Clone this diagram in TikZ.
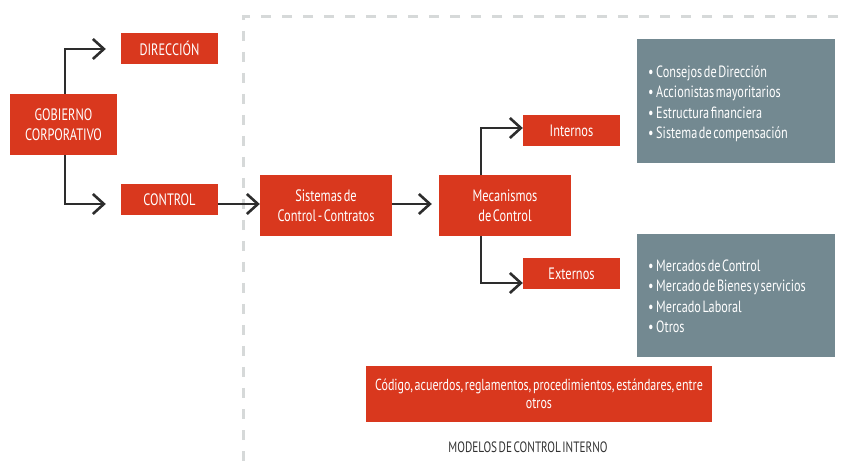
\documentclass[tikz,border=0pt]{standalone}
\usepackage{fontspec}
\setmainfont{PT Sans}[FakeStretch=0.75,WordSpace=0.5]
\usetikzlibrary{arrows.meta}
\definecolor{redbox}{RGB}{217,56,30}
\definecolor{graybox}{RGB}{115,137,145}
\definecolor{dashgray}{RGB}{214,217,217}
\definecolor{linedark}{RGB}{45,45,45}
\definecolor{labeldark}{RGB}{50,50,50}
\tikzset{
  rbox/.style={fill=redbox, text=white, inner sep=0pt, align=center,
    font=\fontsize{16.5}{20}\selectfont},
  gbox/.style={fill=graybox, inner sep=0pt, minimum width=198pt},
  gtext/.style={text=white, inner sep=0pt, align=left, anchor=west,
    font=\fontsize{16.3}{20.5}\selectfont},
  conn/.style={draw=linedark, line width=2.6pt,
    -{Straight Barb[length=11pt,width=20pt,line width=2.6pt]}},
  frame/.style={draw=dashgray, line width=3pt, dash pattern=on 10pt off 11pt},
}
\begin{document}
\begin{tikzpicture}[x=1pt,y=-1pt]
\useasboundingbox (0,0) rectangle (844,470);
% dashed frame
\draw[frame] (838,17) -- (243,17) -- (243,470);
% red boxes
\node[rbox, minimum width=107pt, minimum height=61pt] (gc) at (63.5,124.5) {GOBIERNO\\CORPORATIVO};
\node[rbox, minimum width=97pt, minimum height=31pt] (dir) at (169.5,48.5) {DIRECCIÓN};
\node[rbox, minimum width=97pt, minimum height=31pt] (ctrl) at (169.5,199.5) {CONTROL};
\node[rbox, minimum width=132pt, minimum height=61pt] (sis) at (326,205.5) {Sistemas de\\Control - Contratos};
\node[rbox, minimum width=132pt, minimum height=61pt] (mec) at (505,205.5) {Mecanismos\\de Control};
\node[rbox, minimum width=97pt, minimum height=31pt] (int) at (571.5,130.5) {Internos};
\node[rbox, minimum width=97pt, minimum height=31pt] (ext) at (571.5,273.5) {Externos};
% gray boxes
\node[gbox, minimum height=124pt] (gi) at (736,101) {};
\node[gtext] (gitext) at ([xshift=11pt,yshift=-3pt]gi.west) {\textbullet\,Consejos de Dirección\\\textbullet\,Accionistas mayoritarios\\\textbullet\,Estructura financiera\\\textbullet\,Sistema de compensación};
\node[gbox, minimum height=123pt] (ge) at (736,295.5) {};
\node[gtext] (getext) at ([xshift=11pt,yshift=-1pt]ge.west) {\textbullet\,Mercados de Control\\\textbullet\,Mercado de Bienes y servicios\\\textbullet\,Mercado Laboral\\\textbullet\,Otros};
% bottom
\node[rbox, minimum width=346pt, minimum height=56pt, font=\fontsize{16}{18}\selectfont] (cod) at (539,394) {Código, acuerdos, reglamentos, procedimientos, estándares, entre\\otros};
\node[text=labeldark, inner sep=0pt, font=\fontsize{15}{18}\selectfont] (mod) at (528,447) {MODELOS DE CONTROL INTERNO};
% connectors
\draw[conn, shorten >=15pt] ([xshift=1.5pt]gc.north) |- ([yshift=-0.5pt]dir.west);
\draw[conn, shorten >=15pt] ([xshift=1.5pt]gc.south) |- ([yshift=-4.5pt]ctrl.west);
\draw[conn] ([yshift=-4.5pt]ctrl.east) -- ([yshift=1.5pt]sis.west);
\draw[conn, shorten >=7pt] ([yshift=1.5pt]sis.east) -- ([yshift=1.5pt]mec.west);
\draw[conn] ([xshift=-24pt]mec.north) |- ([yshift=2.5pt]int.west);
\draw[conn] ([xshift=-24pt]mec.south) |- ([yshift=-9.5pt]ext.west);
\end{tikzpicture}
\end{document}
